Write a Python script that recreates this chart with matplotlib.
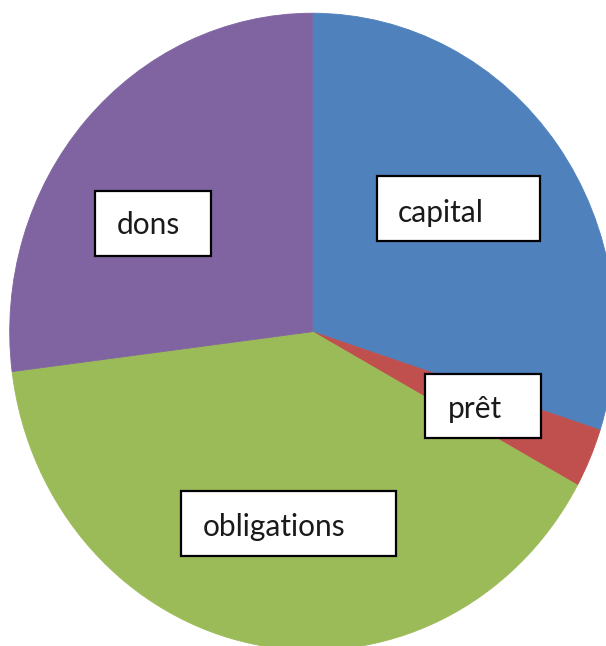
import matplotlib
matplotlib.use("Agg")
import matplotlib.pyplot as plt
from matplotlib.patches import Rectangle

# slices, clockwise from 12 o'clock
labels = ["capital", "prêt", "obligations", "dons"]
values = [30, 3, 40, 27]
colors = ["#4F81BD", "#C0504D", "#9BBB59", "#8064A2"]

W, H = 606, 646
# pie centre and radii in pixels (the picture is slightly stretched vertically)
CX, CY = 312.3, 331.7
RX, RY = 302.6, 318.5

# label boxes in pixels: (left, top, right, bottom), text x, text baseline
boxes = {
    "capital": ((377, 176, 540, 241), 398, 221.7),
    "prêt": ((425, 373.5, 540.5, 437.5), 448, 418.3),
    "obligations": ((181, 491, 395.5, 556), 203, 535.7),
    "dons": ((95, 191, 210.5, 256), 117, 234.3),
}


def fx(px):
    return px / W


def fy(py):
    return 1 - py / H


def main():
    fig = plt.figure(figsize=(W / 100, H / 100), dpi=100)
    ax = fig.add_axes([0, 0, 1, 1])
    wedges, _ = ax.pie(values, colors=colors, startangle=90, counterclock=False,
                       wedgeprops=dict(linewidth=0.6))
    for w, c in zip(wedges, colors):
        w.set_edgecolor(c)
    ax.set_aspect("auto")
    ax.set_xlim(-CX / RX, (W - CX) / RX)
    ax.set_ylim((CY - H) / RY, CY / RY)
    ax.axis("off")

    for name in labels:
        (l, t, r, b), tx, ty = boxes[name]
        fig.add_artist(Rectangle((fx(l), fy(b)), fx(r) - fx(l), fy(t) - fy(b),
                                 transform=fig.transFigure, facecolor="white",
                                 edgecolor="black", linewidth=1.6, zorder=5))
        fig.text(fx(tx), fy(ty), name, ha="left", va="baseline",
                 fontsize=21.5, family="Lato", color="#1a1a1a", zorder=6)

    fig.savefig("out.png", dpi=100)


if __name__ == "__main__":
    main()
